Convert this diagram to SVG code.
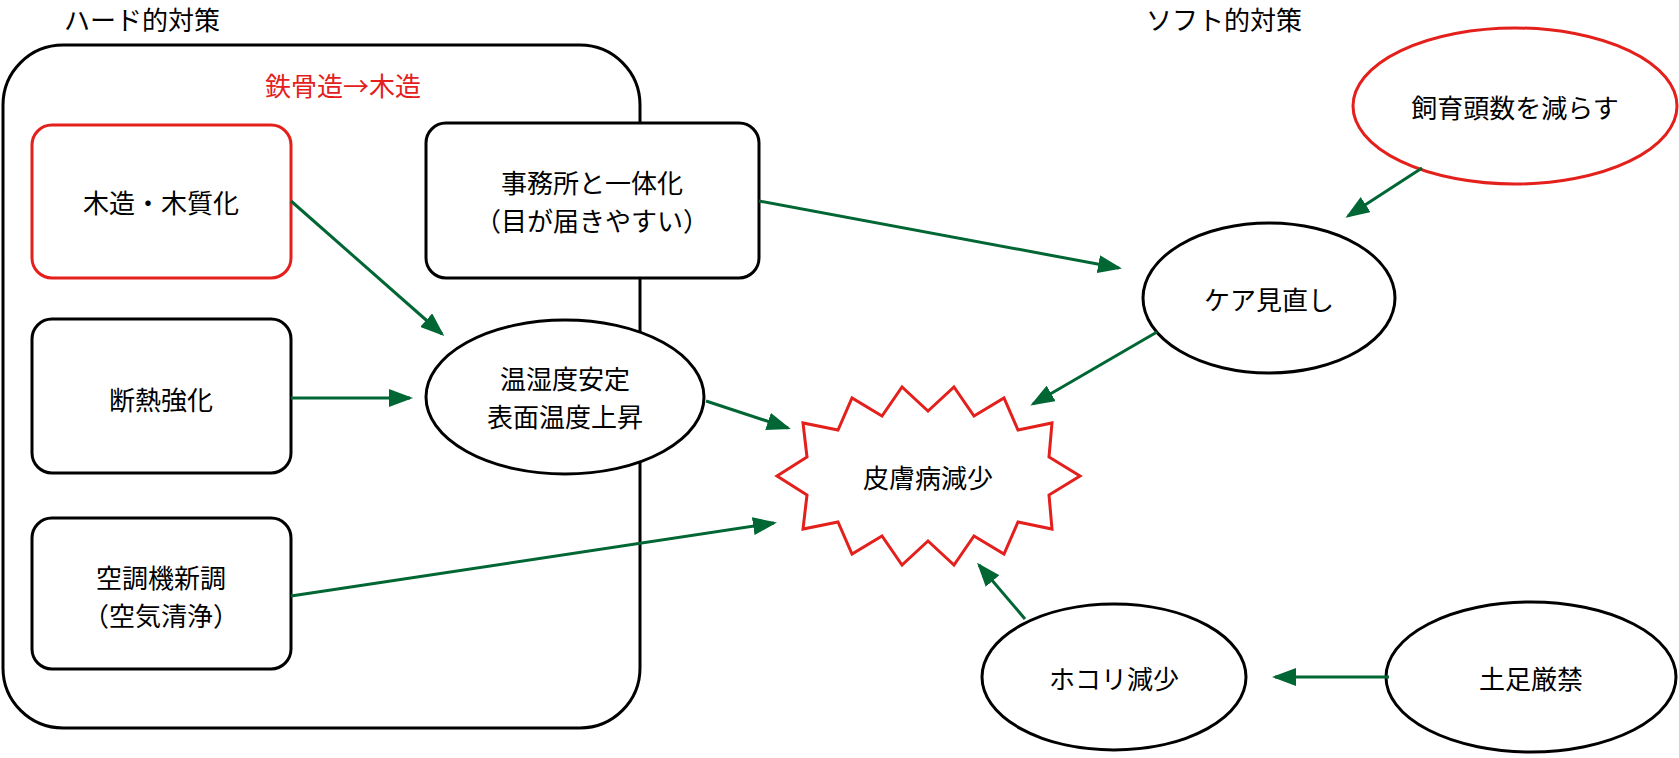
<svg xmlns="http://www.w3.org/2000/svg" width="1679" height="758" viewBox="0 0 1679 758">
<style>
text{font-family:"Noto Sans CJK JP","Noto Sans",sans-serif;font-size:26px;fill:#000;text-anchor:middle;dominant-baseline:central}
.b{fill:#fff;stroke:#000;stroke-width:3}
.r{fill:#fff;stroke:#e3201b;stroke-width:3}
.c line{stroke:#006633;stroke-width:3;marker-end:url(#a)}
</style>
<defs><marker id="a" markerWidth="8" markerHeight="6" refX="7" refY="3" orient="auto" markerUnits="strokeWidth"><path d="M0,0L8,3L0,6z" fill="#006633"/></marker></defs>
<text x="64" y="18" style="text-anchor:start">ハード的対策</text>
<text x="1146" y="18" style="text-anchor:start">ソフト的対策</text>
<g id="hard"><rect class="b" x="3" y="45" width="637" height="683" rx="60"/>
<text x="343" y="84" style="fill:#e3201b">鉄骨造→木造</text></g>
<g id="wood"><rect class="r" x="32" y="125" width="259" height="153" rx="20"/><text x="161" y="201">木造・木質化</text></g>
<g id="insul"><rect class="b" x="32" y="319" width="259" height="154" rx="20"/><text x="161" y="398">断熱強化</text></g>
<g id="aircon"><rect class="b" x="32" y="518" width="259" height="151" rx="20"/><text x="161" y="576">空調機新調</text><text x="161" y="614">（空気清浄）</text></g>
<g id="office"><rect class="b" x="426" y="123" width="333" height="155" rx="20"/><text x="592" y="181">事務所と一体化</text><text x="592" y="219">（目が届きやすい）</text></g>
<g id="temp"><ellipse class="b" cx="565" cy="397" rx="139" ry="77"/><text x="565" y="377">温湿度安定</text><text x="565" y="415">表面温度上昇</text></g>
<g id="care"><ellipse class="b" cx="1269" cy="298" rx="126" ry="75"/><text x="1269" y="298">ケア見直し</text></g>
<g id="herd"><ellipse class="r" cx="1515" cy="106" rx="162" ry="78"/><text x="1515" y="106">飼育頭数を減らす</text></g>
<g id="dust"><ellipse class="b" cx="1114" cy="677" rx="132" ry="73"/><text x="1114" y="677">ホコリ減少</text></g>
<g id="shoes"><ellipse class="b" cx="1531" cy="677" rx="145" ry="75"/><text x="1531" y="677">土足厳禁</text></g>
<g id="skin"><polygon class="r" points="777,476 807,457 803,423 838,430 852,398 882,416 902,387 928,411 954,387 974,416 1004,398 1018,430 1052,423 1049,457 1080,476 1049,495 1052,529 1018,522 1004,554 974,536 954,565 928,541 902,565 882,536 852,554 838,522 803,529 807,495"/><text x="928" y="476">皮膚病減少</text></g>
<g class="c" id="connectors">
<line x1="291" y1="201" x2="442" y2="334"/>
<line x1="291" y1="398" x2="410" y2="398"/>
<line x1="291" y1="596" x2="774" y2="523"/>
<line x1="706" y1="401" x2="788" y2="428"/>
<line x1="759" y1="201" x2="1119" y2="268"/>
<line x1="1157" y1="332" x2="1033" y2="404"/>
<line x1="1422" y1="168" x2="1348" y2="216"/>
<line x1="1025" y1="619" x2="979" y2="565"/>
<line x1="1389" y1="677" x2="1275" y2="677"/>
</g>
</svg>
